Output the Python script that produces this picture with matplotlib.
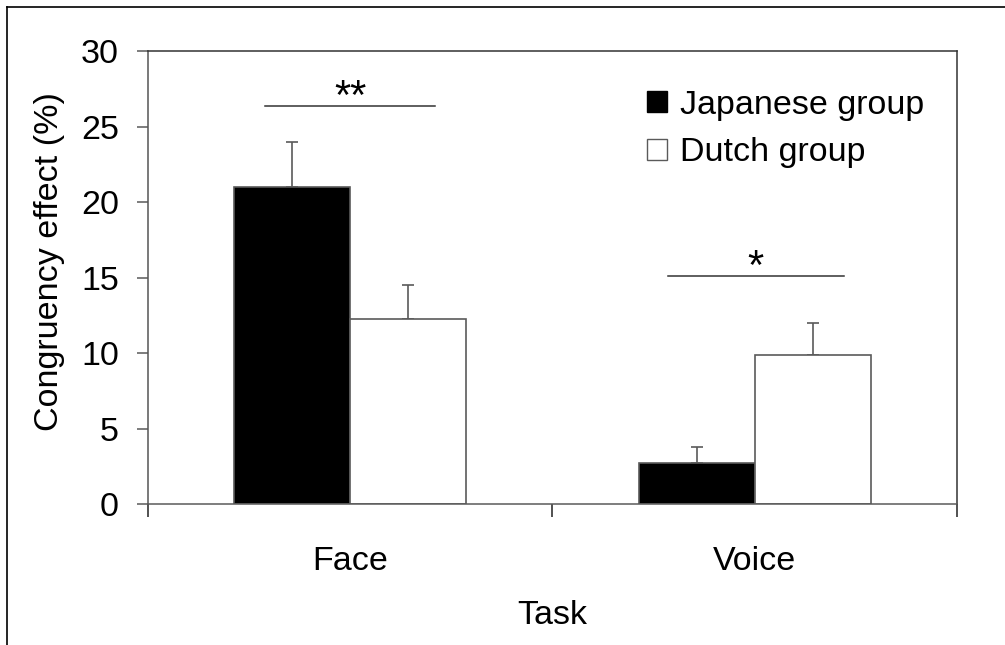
import matplotlib
matplotlib.use('Agg')
import matplotlib.pyplot as plt
from matplotlib.patches import Patch
from matplotlib.lines import Line2D

plt.rcParams['font.family'] = ['Liberation Sans', 'DejaVu Sans']

# data
tasks = ['Face', 'Voice']
japanese = [21.0, 2.7]
japanese_err = [3.0, 1.1]
dutch = [12.25, 9.9]
dutch_err = [2.25, 2.1]
# significance brackets: (x start, x end, y, label)
sig = [(-0.21, 0.21, 26.35, '**'), (0.785, 1.22, 15.1, '*')]

fs = 24.5
edge = '#5a5a5a'
w = 0.287

fig = plt.figure(figsize=(10.05, 6.45), dpi=100)
ax = fig.add_axes([0.1473, 0.2186, 0.8049, 0.7023])

x = [0, 1]
ax.bar([i - w / 2 for i in x], japanese, width=w, color='black', edgecolor=edge, linewidth=1.2, zorder=2)
ax.bar([i + w / 2 for i in x], dutch, width=w, color='white', edgecolor=edge, linewidth=1.2, zorder=2)
ax.errorbar([i - w / 2 for i in x], japanese, yerr=[[0, 0], japanese_err], fmt='none',
            ecolor=edge, elinewidth=1.2, capsize=4, capthick=1.2, zorder=1)
ax.errorbar([i + w / 2 for i in x], dutch, yerr=[[0, 0], dutch_err], fmt='none',
            ecolor=edge, elinewidth=1.2, capsize=4, capthick=1.2, zorder=1)

for x0, x1, y, lab in sig:
    ax.plot([x0, x1], [y, y], color='#333333', lw=1.1)
    ax.text((x0 + x1) / 2, y - 0.2, lab, ha='center', va='baseline', fontsize=30)

ax.set_xlim(-0.5, 1.5)
ax.set_ylim(0, 30)
ax.set_yticks([0, 5, 10, 15, 20, 25, 30])
ax.set_xticks(x)
ax.set_xticklabels(tasks)
ax.set_xticks([-0.5, 0.5, 1.5], minor=True)
ax.tick_params(axis='y', direction='out', length=8, width=1.1, color=edge, pad=13, labelsize=fs)
ax.tick_params(axis='x', which='major', length=0, pad=30, labelsize=fs)
ax.tick_params(axis='x', which='minor', direction='out', length=9, width=1.1, color='#222222')
for s in ax.spines.values():
    s.set_color('#333333')
    s.set_linewidth(1.1)
ax.spines['bottom'].set_color(edge)
ax.spines['left'].set_color('#555555')

ax.set_ylabel('Congruency effect (%)', fontsize=fs)
ax.yaxis.set_label_coords(-0.103, 0.536)
ax.set_xlabel('Task', fontsize=fs, labelpad=17)

handles = [Patch(facecolor='black', edgecolor='black', linewidth=1.0),
           Patch(facecolor='white', edgecolor=edge, linewidth=1.0)]
ax.legend(handles, ['Japanese group', 'Dutch group'], loc='upper left',
          bbox_to_anchor=(0.617, 0.915), frameon=False, fontsize=fs,
          handlelength=0.58, handleheight=0.58, handletextpad=0.4,
          labelspacing=0.49, borderpad=0, borderaxespad=0)

# outer frame lines of the picture
fig.add_artist(Line2D([0.007, 1.0], [0.989, 0.989], color='black', lw=1.2))
fig.add_artist(Line2D([0.007, 0.007], [0.0, 0.989], color='black', lw=1.2))

fig.savefig('out.png', dpi=100)
